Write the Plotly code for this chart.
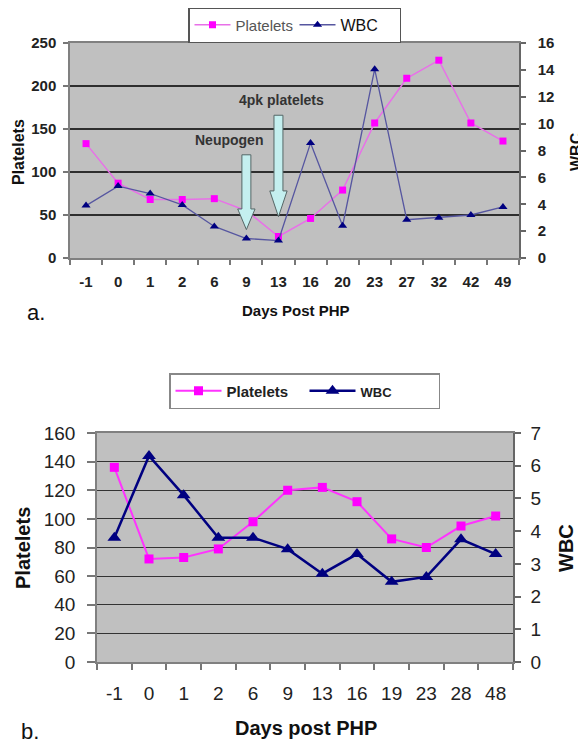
import plotly.graph_objects as go

# ---------------- data ----------------
days_a = ["-1", "0", "1", "2", "6", "9", "13", "16", "20", "23", "27", "32", "42", "49"]
platelets_a = [133, 87, 68, 68, 69, 55, 25, 46, 79, 157, 209, 230, 157, 136]
wbc_a = [3.9, 5.35, 4.8, 3.95, 2.35, 1.45, 1.3, 8.55, 2.4, 14.05, 2.85, 3.0, 3.2, 3.8]

days_b = ["-1", "0", "1", "2", "6", "9", "13", "16", "19", "23", "28", "48"]
platelets_b = [136, 72, 73, 79, 98, 120, 122, 112, 86, 80, 95, 102]
wbc_b = [3.8, 6.3, 5.1, 3.8, 3.8, 3.45, 2.7, 3.3, 2.45, 2.6, 3.75, 3.3]

# page body has an 8px margin, so the figure is 8px smaller each way
OFF = 8
W, H = 586 - OFF, 750 - OFF
FONT = "Liberation Sans, Arial, sans-serif"
PINK = "#FF00FF"
NAVY = "#000080"


def px_x(p):
    return (p - OFF) / W


def px_y(p):
    return 1 - (p - OFF) / H


xa = list(range(len(days_a)))
xb = list(range(len(days_b)))

fig = go.Figure()

# ---- chart a ----
fig.add_trace(go.Scatter(
    x=xa, y=platelets_a, name="<span style='color:#555555'>Platelets</span>",
    mode="lines+markers", xaxis="x", yaxis="y", legend="legend",
    line=dict(color="#E870E8", width=1.5),
    marker=dict(symbol="square", size=7, color=PINK)))
fig.add_trace(go.Scatter(
    x=xa, y=wbc_a, name="<span style='font-size:16px;color:#111'>WBC</span>",
    mode="lines+markers", xaxis="x", yaxis="y2", legend="legend",
    line=dict(color="#5656A0", width=1.3),
    marker=dict(symbol="triangle-up", size=8, color=NAVY)))

# ---- chart b ----
fig.add_trace(go.Scatter(
    x=xb, y=platelets_b, name="<b>Platelets</b>",
    mode="lines+markers", xaxis="x2", yaxis="y3", legend="legend2",
    line=dict(color="#FF33FF", width=2),
    marker=dict(symbol="square", size=9, color=PINK)))
fig.add_trace(go.Scatter(
    x=xb, y=wbc_b, name="<b><span style='font-size:13px'>WBC</span></b>",
    mode="lines+markers", xaxis="x2", yaxis="y4", legend="legend2",
    line=dict(color=NAVY, width=2.5),
    marker=dict(symbol="triangle-up", size=12, color=NAVY)))

tick_a = dict(family=FONT, size=15, color="#222222", weight="bold")
tick_b = dict(family=FONT, size=19, color="#222222")

fig.update_layout(
    width=W, height=H,
    margin=dict(l=0, r=0, t=0, b=0, autoexpand=False),
    paper_bgcolor="white",
    plot_bgcolor="#C0C0C0",
    font=dict(family=FONT),
    xaxis=dict(
        domain=[px_x(70), px_x(519)], anchor="y", automargin=False,
        range=[-0.5, len(days_a) - 0.5],
        tickmode="array", tickvals=xa, ticktext=days_a, ticks="",
        ticklabelstandoff=9,
        minor=dict(tickvals=[i - 0.5 for i in range(len(days_a) + 1)],
                   ticks="outside", ticklen=5, tickcolor="#777777", tickwidth=1.5),
        showline=True, linecolor="#808080", linewidth=1.5, mirror=True,
        showgrid=False, zeroline=False, tickfont=tick_a),
    yaxis=dict(
        domain=[px_y(258), px_y(43)], anchor="x", automargin=False,
        range=[0, 250], dtick=50, ticks="outside", ticklen=5,
        tickcolor="#777777", tickwidth=1.5, ticklabelstandoff=4,
        showline=True, linecolor="#808080", linewidth=1.5,
        showgrid=True, gridcolor="#2E2E2E", gridwidth=1.5,
        zeroline=False, tickfont=tick_a),
    yaxis2=dict(
        overlaying="y", side="right", anchor="x", automargin=False,
        range=[0, 16], dtick=2, ticks="outside", ticklen=5,
        tickcolor="#666666", tickwidth=1.5, ticklabelstandoff=9,
        showline=True, linecolor="#666666", linewidth=1.5,
        showgrid=False, zeroline=False, tickfont=tick_a),
    xaxis2=dict(
        domain=[px_x(97), px_x(513)], anchor="y3", automargin=False,
        range=[-0.5, len(days_b) - 0.5],
        tickmode="array", tickvals=xb, ticktext=days_b, ticks="",
        ticklabelstandoff=13,
        minor=dict(tickvals=[i - 0.5 for i in range(len(days_b) + 1)],
                   ticks="outside", ticklen=6, tickcolor="#777777", tickwidth=1.5),
        showline=True, linecolor="#808080", linewidth=1.5, mirror=True,
        showgrid=False, zeroline=False, tickfont=tick_b),
    yaxis3=dict(
        domain=[px_y(662), px_y(433)], anchor="x2", automargin=False,
        range=[0, 160], dtick=20, ticks="outside", ticklen=8,
        tickcolor="#777777", tickwidth=1.5, ticklabelstandoff=8,
        showline=True, linecolor="#808080", linewidth=1.5,
        showgrid=True, gridcolor="#333333", gridwidth=1.2,
        zeroline=False, tickfont=tick_b),
    yaxis4=dict(
        overlaying="y3", side="right", anchor="x2", automargin=False,
        range=[0, 7], dtick=1, ticks="outside", ticklen=6,
        tickcolor="#666666", tickwidth=1.5, ticklabelstandoff=6,
        showline=True, linecolor="#666666", linewidth=1.5,
        showgrid=False, zeroline=False, tickfont=tick_b),
    legend=dict(
        orientation="h", x=px_x(188), xanchor="left",
        y=px_y(7), yanchor="top",
        bgcolor="white", bordercolor="#555555", borderwidth=1.5,
        font=dict(family=FONT, size=15, color="#555555"),
        itemwidth=36, tracegroupgap=0, entrywidth=54),
    legend2=dict(
        orientation="h", x=px_x(169), xanchor="left",
        y=px_y(373), yanchor="top",
        bgcolor="white", bordercolor="#888888", borderwidth=1.5,
        font=dict(family=FONT, size=15, color="#222222"),
        itemwidth=46, entrywidth=73),
)


# ---- block arrows (chart a) ----
def arrow_path(xc, y_top, y_head, y_tip, hw_shaft, hw_head):
    pts = [(xc - hw_shaft, y_top), (xc + hw_shaft, y_top), (xc + hw_shaft, y_head),
           (xc + hw_head, y_head), (xc, y_tip), (xc - hw_head, y_head),
           (xc - hw_shaft, y_head)]
    return "M " + " L ".join(f"{x},{y}" for x, y in pts) + " Z"


neupogen_idx = days_a.index("9")
pk_idx = days_a.index("13")
for xc, yt, yh, ytip in [(neupogen_idx, 120, 57, 33), (pk_idx, 166, 78, 48)]:
    fig.add_shape(type="path", xref="x", yref="y",
                  path=arrow_path(xc, yt, yh, ytip, 0.14, 0.27),
                  fillcolor="#C4EFEF", line=dict(color="#556666", width=1))

ann_font = dict(family=FONT, size=14, color="#333333", weight="bold")
fig.add_annotation(x=neupogen_idx - 0.55, y=137, xref="x", yref="y",
                   text="Neupogen", showarrow=False, font=ann_font)
fig.add_annotation(x=pk_idx + 0.1, y=184, xref="x", yref="y",
                   text="4pk platelets", showarrow=False, font=ann_font)


# ---- titles and panel labels ----
def txt(text, x, y, size, bold=True, angle=0, color="#111111"):
    fig.add_annotation(text=text, x=px_x(x), y=px_y(y), xref="paper", yref="paper",
                       showarrow=False, textangle=angle, xanchor="center", yanchor="middle",
                       font=dict(family=FONT, size=size, color=color,
                                 weight="bold" if bold else "normal"))


txt("Platelets", 18, 152, 16, angle=-90)
txt("WBC", 576, 152, 16, angle=-90)
txt("Days Post PHP", 296, 311, 15)
txt("a.", 36, 312, 22, bold=False)

txt("Platelets", 23, 548, 20, angle=-90)
txt("WBC", 566, 548, 20, angle=-90)
txt("Days post PHP", 306, 728, 20)
txt("b.", 30, 731, 22, bold=False)

fig.write_html("out.html")
